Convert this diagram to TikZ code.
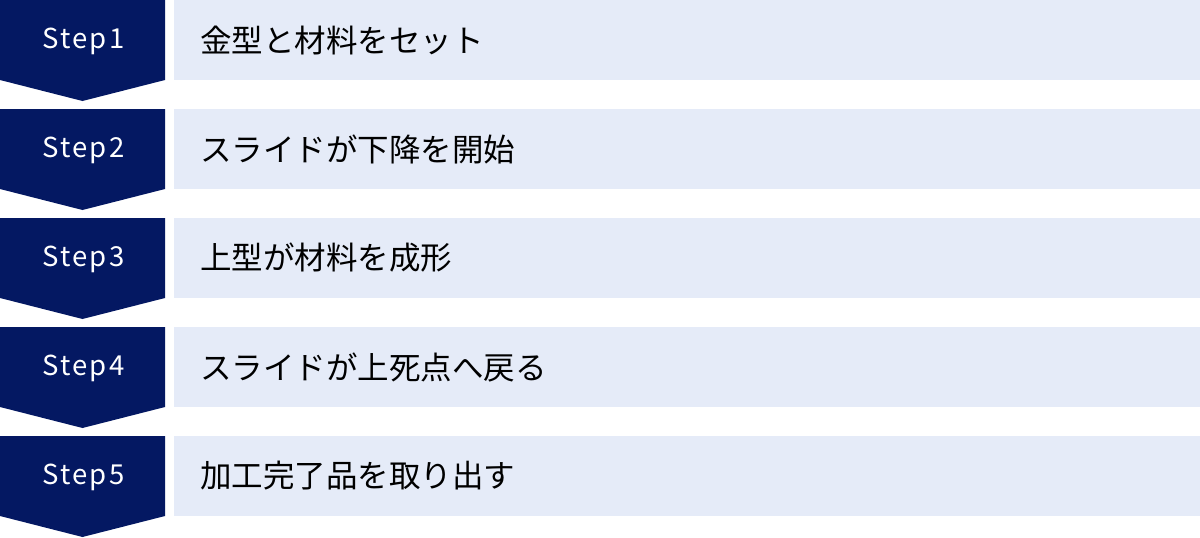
\documentclass[tikz,border=0pt]{standalone}
\usepackage{fontspec}
\setmainfont{Noto Sans CJK JP}
\newfontfamily\steplabel[LetterSpace=8]{Noto Sans CJK JP}
\definecolor{navy}{HTML}{041862}
\definecolor{pale}{HTML}{E5EBF8}
\tikzset{
  stepshape/.style={fill=navy, draw=none},
  textbox/.style={fill=pale, draw=none},
  steptext/.style={text=white, font=\steplabel\fontsize{27.5}{32}\selectfont, inner sep=0pt},
  bodytext/.style={text=black, font=\fontsize{31.5}{36}\selectfont, inner sep=0pt, anchor=west},
}
\begin{document}
\begin{tikzpicture}[x=1pt,y=-1pt]
\useasboundingbox (0,0) rectangle (1200,538);
\foreach \i/\t in {1/金型と材料をセット,2/スライドが下降を開始,3/上型が材料を成形,4/スライドが上死点へ戻る,5/加工完了品を取り出す}{
  \pgfmathsetmacro{\y}{(\i-1)*109}
  \fill[stepshape] (0,\y) -- (165,\y) -- (165,\y+80) -- (82.5,\y+101) -- (0,\y+80) -- cycle;
  \fill[textbox] (174,\y) rectangle (1200,\y+80);
  \node[steptext] (s\i) at (83.5,\y+41) {Step\i};
  \node[bodytext] (b\i) at (200,\y+40) {\t};
}
\end{tikzpicture}
\end{document}
